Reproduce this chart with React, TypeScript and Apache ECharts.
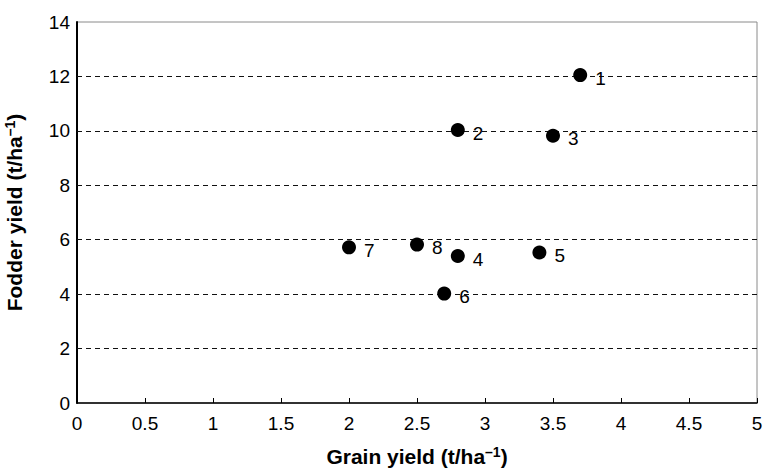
import React, { useEffect, useRef } from "react";
import * as echarts from "echarts";

const pointLabels = ["1", "2", "3", "4", "5", "6", "7", "8"];
const grainYield = [3.7, 2.8, 3.5, 2.8, 3.4, 2.7, 2.0, 2.5];
const fodderYield = [12.05, 10.03, 9.82, 5.4, 5.53, 4.02, 5.72, 5.82];
const gridValues = [2, 4, 6, 8, 10, 12];

const FONT = "'Liberation Sans', Arial, Helvetica, sans-serif";

export default function App() {
  const ref = useRef<HTMLDivElement>(null);
  useEffect(() => {
    if (!ref.current) return;
    const chart = echarts.init(ref.current, undefined, { renderer: "svg" });
    const data = grainYield.map((x, i) => ({ value: [x, fodderYield[i]], name: pointLabels[i] }));
    const rich = {
      t: { fontFamily: FONT, fontSize: 21, fontWeight: "bold", color: "#000" },
      s: { fontFamily: FONT, fontSize: 14, fontWeight: "bold", color: "#000", verticalAlign: "top", padding: [0, 0, 9, 0] },
    };
    chart.setOption({
      animation: false,
      backgroundColor: "#fff",
      textStyle: { fontFamily: FONT },
      grid: {
        left: 77,
        right: 7,
        top: 22,
        bottom: 67,
        containLabel: false,
        outerBoundsMode: "none",
        show: true,
        borderColor: "#8a8a8a",
        borderWidth: 1,
        backgroundColor: "transparent",
      },
      xAxis: {
        type: "value",
        min: 0,
        max: 5,
        interval: 0.5,
        name: "{t|Grain yield (t/ha}{s|–1}{t|)}",
        nameLocation: "middle",
        nameGap: 42,
        nameTextStyle: { rich },
        axisLine: { show: true, lineStyle: { color: "#000", width: 1.5 } },
        axisTick: { show: true, inside: true, length: 5, lineStyle: { color: "#000" } },
        axisLabel: { color: "#000", fontSize: 19, fontFamily: FONT, margin: 11 },
        splitLine: { show: false },
      },
      yAxis: {
        type: "value",
        min: 0,
        max: 14,
        interval: 2,
        name: "{t|Fodder yield (t/ha}{s|–1}{t|)}",
        nameLocation: "middle",
        nameGap: 51,
        nameRotate: 90,
        nameTextStyle: { rich },
        axisLine: { show: true, lineStyle: { color: "#000", width: 2 } },
        axisTick: { show: false },
        axisLabel: { color: "#000", fontSize: 19, fontFamily: FONT, margin: 7 },
        splitLine: { show: false },
      },
      series: [
        {
          type: "scatter",
          data,
          symbol: "circle",
          symbolSize: 14,
          itemStyle: { color: "#000", opacity: 1 },
          label: {
            show: true,
            position: "right",
            distance: 8,
            offset: [0, 3],
            formatter: (p: any) => p.name,
            color: "#000",
            fontSize: 19,
            fontFamily: FONT,
          },
          emphasis: { disabled: true },
          markLine: {
            silent: true,
            symbol: "none",
            label: { show: false },
            lineStyle: { color: "#111", type: [5, 4], width: 1, opacity: 1 },
            data: gridValues.map((v) => ({ yAxis: v })),
            z: 1,
          },
          z: 3,
        },
      ],
    });
    return () => chart.dispose();
  }, []);
  return <div ref={ref} style={{ width: 764, height: 470, position: "absolute", left: 0, top: 0 }} />;
}
